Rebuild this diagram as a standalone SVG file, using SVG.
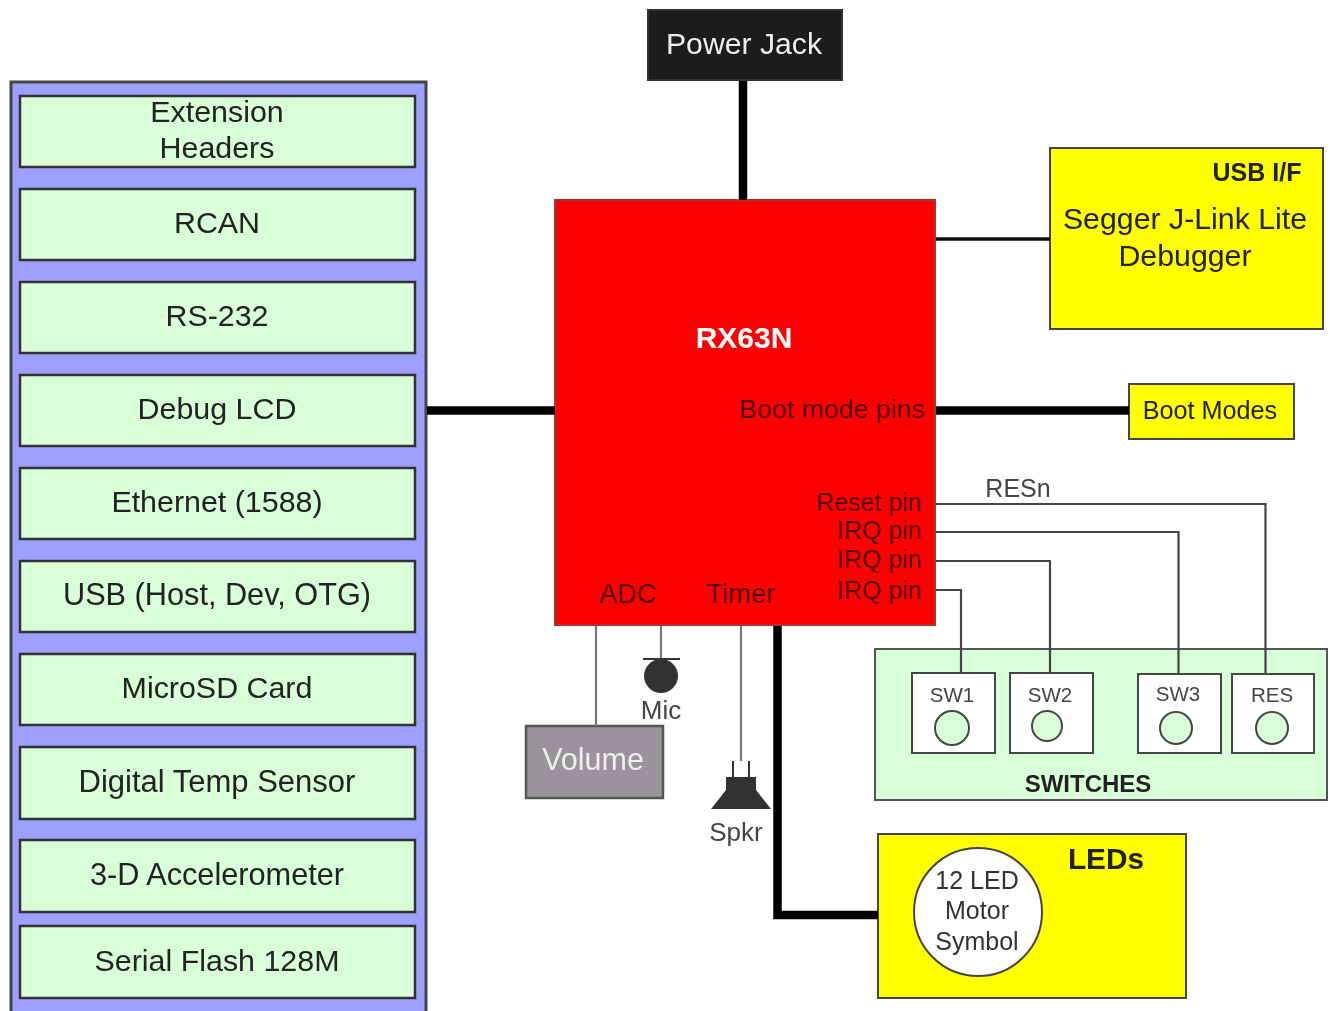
<svg xmlns="http://www.w3.org/2000/svg" width="1330" height="1011" viewBox="0 0 1330 1011">
<defs><filter id="soft" x="0" y="0" width="100%" height="100%"><feGaussianBlur stdDeviation="0.55"/></filter></defs>
<style>
text{font-family:"Liberation Sans",Arial,sans-serif;fill:#222;text-anchor:middle}
.bar{fill:#d9ffd9;stroke:#333;stroke-width:2.5}
.bl{font-size:30.4px}
.thick{fill:none;stroke:#000;stroke-width:8.5}
.thin{fill:none;stroke:#444;stroke-width:2.2}
.gthin{fill:none;stroke:#777;stroke-width:2.2}
.sw{fill:#fff;stroke:#444;stroke-width:2}
.btn{fill:#d9ffd9;stroke:#444;stroke-width:2}
.swt{font-size:20.5px;fill:#444}
.pin{font-size:25px;fill:#500000;text-anchor:end}
</style>
<g filter="url(#soft)">
<rect width="1330" height="1011" fill="#fff"/>
<g id="power-jack"><rect x="648" y="10" width="194" height="70" fill="#1a1a1a" stroke="#333" stroke-width="2"/><text x="744" y="54" font-size="30.2" style="fill:#eee">Power Jack</text></g>
<g id="extension-panel"><rect x="11" y="82" width="415" height="935" fill="#9f9fff" stroke="#444" stroke-width="3"/></g>
<g id="extension-headers"><rect class="bar" x="20" y="96" width="395" height="71"/><text class="bl" x="217" y="121.5">Extension</text><text class="bl" x="217" y="157.5">Headers</text></g>
<g id="rcan"><rect class="bar" x="20" y="189" width="395" height="71"/><text class="bl" x="217" y="233">RCAN</text></g>
<g id="rs232"><rect class="bar" x="20" y="282" width="395" height="71"/><text class="bl" x="217" y="326">RS-232</text></g>
<g id="debug-lcd"><rect class="bar" x="20" y="375" width="395" height="71"/><text class="bl" x="217" y="419">Debug LCD</text></g>
<g id="ethernet"><rect class="bar" x="20" y="468" width="395" height="71"/><text class="bl" x="217" y="512">Ethernet (1588)</text></g>
<g id="usb"><rect class="bar" x="20" y="561" width="395" height="71"/><text x="217" y="605" font-size="30.7">USB (Host, Dev, OTG)</text></g>
<g id="microsd"><rect class="bar" x="20" y="654" width="395" height="71"/><text class="bl" x="217" y="698">MicroSD Card</text></g>
<g id="temp"><rect class="bar" x="20" y="747" width="395" height="72"/><text x="217" y="791.5" font-size="31">Digital Temp Sensor</text></g>
<g id="accel"><rect class="bar" x="20" y="840" width="395" height="72"/><text x="217" y="884.5" font-size="30.7">3-D Accelerometer</text></g>
<g id="flash"><rect class="bar" x="20" y="926" width="395" height="72"/><text class="bl" x="217" y="970.5">Serial Flash 128M</text></g>
<g id="rx63n"><rect x="555" y="200" width="380" height="425" fill="#f00" stroke="#a33" stroke-width="2"/>
<text x="744" y="348" font-size="30" font-weight="bold" style="fill:#fff">RX63N</text>
<text class="pin" x="925" y="418" style="font-size:26.7px">Boot mode pins</text>
<text class="pin" x="922" y="510.5">Reset pin</text>
<text class="pin" x="922" y="538.5">IRQ pin</text>
<text class="pin" x="922" y="568">IRQ pin</text>
<text class="pin" x="922" y="599">IRQ pin</text>
<text x="628" y="603" font-size="27" style="fill:#500000">ADC</text>
<text x="741" y="603" font-size="27.5" style="fill:#500000">Timer</text></g>
<g id="debugger"><rect x="1050" y="148" width="273" height="181" fill="#ff0" stroke="#444" stroke-width="2"/>
<text x="1257" y="181" font-size="25" font-weight="bold">USB I/F</text>
<text x="1185" y="229" font-size="30.3">Segger J-Link Lite</text>
<text x="1185" y="266" font-size="30.3">Debugger</text></g>
<g id="boot-modes"><rect x="1129" y="384" width="165" height="55" fill="#ff0" stroke="#444" stroke-width="2"/><text x="1210" y="419" font-size="25.2">Boot Modes</text></g>
<text x="1018" y="497" font-size="25" style="fill:#444">RESn</text>
<g id="switches"><rect x="875" y="649" width="452" height="151" fill="#d9ffd9" stroke="#555" stroke-width="2"/>
<text x="1088" y="792" font-size="24" font-weight="bold">SWITCHES</text></g>
<g id="sw1"><rect class="sw" x="912" y="673" width="83" height="80"/><text class="swt" x="952" y="702">SW1</text><circle class="btn" cx="952" cy="728" r="17"/></g>
<g id="sw2"><rect class="sw" x="1010" y="673" width="83" height="80"/><text class="swt" x="1050" y="702">SW2</text><circle class="btn" cx="1047" cy="726" r="15"/></g>
<g id="sw3"><rect class="sw" x="1138" y="674" width="83" height="79"/><text class="swt" x="1178" y="701">SW3</text><circle class="btn" cx="1176" cy="728" r="16"/></g>
<g id="res"><rect class="sw" x="1232" y="674" width="82" height="79"/><text class="swt" x="1272" y="702">RES</text><circle class="btn" cx="1272" cy="728" r="16"/></g>
<g id="volume"><rect x="526" y="726" width="137" height="72" fill="#999499" stroke="#555" stroke-width="2.5"/><text x="593" y="770" font-size="30.5" style="fill:#eee">Volume</text></g>
<g id="mic"><path d="M643 659H680" stroke="#333" stroke-width="2"/><circle cx="661" cy="676" r="17" fill="#333"/><text x="661" y="719" font-size="26" style="fill:#444">Mic</text></g>
<g id="spkr"><path d="M733 761V777M749 761V777" stroke="#333" stroke-width="2"/><rect x="726" y="777" width="30" height="18" fill="#333"/><path d="M726 790H756L771 809H711Z" fill="#333"/><text x="736" y="841" font-size="26" style="fill:#444">Spkr</text></g>
<g id="leds"><rect x="878" y="834" width="308" height="164" fill="#ff0" stroke="#444" stroke-width="2"/><text x="1106" y="869" font-size="29.8" font-weight="bold">LEDs</text>
<circle cx="978" cy="912" r="64" fill="#fff" stroke="#444" stroke-width="2"/>
<text x="977" y="889" font-size="25" style="fill:#333">12 LED</text><text x="977" y="919" font-size="25" style="fill:#333">Motor</text><text x="977" y="950" font-size="25" style="fill:#333">Symbol</text></g>
<g id="connectors">
<path class="thick" d="M743 81V200"/>
<path class="thick" d="M427 410.5H555"/>
<path class="thick" d="M936 410.5H1129"/>
<path class="thin" style="stroke-width:3.5;stroke:#111" d="M936 239H1050"/>
<path class="thick" d="M777.5 626V915H878"/>
<path class="thin" d="M936 504H1265.5V674"/>
<path class="thin" d="M936 532H1178.5V674"/>
<path class="thin" d="M936 561H1050V674"/>
<path class="thin" d="M936 590H961V674"/>
<path class="gthin" d="M596 626V726"/>
<path class="gthin" d="M661 626V658"/>
<path class="gthin" d="M741 626V761"/>
</g>
</g>
</svg>
